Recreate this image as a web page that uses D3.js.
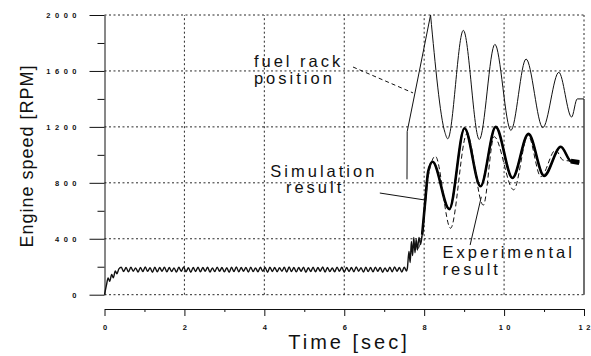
<!DOCTYPE html>
<html>
<head>
<meta charset="utf-8">
<script src="https://cdn.jsdelivr.net/npm/d3@7"></script>
<style>
  body { margin: 0; background: #fff; }
  svg { display: block; font-family: "Liberation Sans", Arial, sans-serif; }
</style>
</head>
<body>
<svg id="chart" width="591" height="356"></svg>
<script>
// axis ticks
var xTicks = [0, 2, 4, 6, 8, 10, 12];
var xMinor = [1, 3, 5, 7, 9, 11];
var yTicks = [0, 400, 800, 1200, 1600, 2000];
var yMinor = [200, 600, 1000, 1400, 1800];
var yLabels = ['0', '400', '800', '1200', '1600', '2000'];

// fuel rack position (thin line)
var fuelT = [7.57, 7.575, 7.87, 8.16, 8.52, 8.59, 8.98, 9.38, 9.77, 10.17, 10.55, 10.97, 11.37, 11.69, 11.83, 12.0];
var fuelV = [825, 1166, 1585, 2000, 1160, 1115, 1890, 1110, 1790, 1175, 1685, 1195, 1590, 1270, 1400, 1400];

// simulation result: start-up
var simStartT = [0, 0.05, 0.09, 0.13, 0.18, 0.22, 0.27, 0.31, 0.36];
var simStartV = [0, 70, 120, 95, 145, 120, 170, 150, 185];

// simulation result: idle ripple, sampled every 0.06 s from 0.42 s
var rippleStart = 0.42;
var rippleStep = 0.06;
var rippleV = [
  196, 166, 194, 163, 197, 168, 192, 162, 195, 165, 198, 167, 193, 161, 196, 164, 194, 168, 197, 163,
  195, 166, 192, 162, 196, 167, 198, 164, 193, 160, 195, 166, 197, 163, 194, 168, 196, 162, 192, 165,
  197, 167, 195, 163, 193, 161, 196, 166, 198, 164, 194, 168, 195, 162, 197, 165, 192, 163, 196, 167,
  194, 161, 197, 166, 195, 164, 193, 168, 196, 162, 198, 165, 194, 163, 195, 167, 197, 161, 193, 166,
  196, 164, 194, 168, 198, 162, 195, 165, 192, 163, 197, 167, 196, 161, 194, 166, 195, 164, 198, 168,
  193, 162, 196, 165, 194, 163, 197, 167, 195, 161, 192, 166, 196, 164, 198, 168, 194, 162, 196, 170
];

// simulation result: load step
var simStepT = [7.58, 7.62, 7.65, 7.68, 7.71, 7.74, 7.77, 7.8, 7.83, 7.87, 7.91, 7.95, 8.03, 8.1, 8.21, 8.63, 9.01, 9.41, 9.79, 10.21, 10.61, 11.0, 11.42, 11.67, 11.88];
var simStepV = [190, 310, 230, 380, 280, 410, 300, 395, 320, 410, 360, 430, 680, 880, 951, 612, 1190, 775, 1200, 835, 1150, 850, 1058, 955, 945];

// experimental result (dashed)
var expT = [7.85, 7.93, 8.02, 8.1, 8.28, 8.66, 9.07, 9.48, 9.75, 10.24, 10.6, 10.92, 11.29, 11.47, 11.67, 11.75];
var expV = [330, 400, 620, 840, 990, 475, 1150, 640, 1130, 750, 1140, 844, 1035, 963, 955, 950];

var svg = d3.select('#chart');

var x = d3.scaleLinear().domain([0, 12]).range([104.5, 584]);
var y = d3.scaleLinear().domain([0, 2000]).range([294.7, 15]);

// build point lists
var fuel = fuelT.map((t, i) => ({t: t, v: fuelV[i]}));
var sim = simStartT.map((t, i) => ({t: t, v: simStartV[i]}));
rippleV.forEach((v, i) => sim.push({t: rippleStart + i * rippleStep, v: v}));
simStepT.forEach((t, i) => sim.push({t: t, v: simStepV[i]}));
var exp = expT.map((t, i) => ({t: t, v: expV[i]}));

// grid
var grid = svg.append('g')
  .attr('stroke', '#111')
  .attr('stroke-width', 0.9)
  .attr('stroke-dasharray', '2,2.5');

grid.selectAll('.hgrid')
  .data(yTicks)
  .join('line')
  .attr('class', 'hgrid')
  .attr('x1', x(0)).attr('x2', x(12))
  .attr('y1', d => y(d)).attr('y2', d => y(d));

grid.selectAll('.vgrid')
  .data(xTicks.slice(1, -1))
  .join('line')
  .attr('class', 'vgrid')
  .attr('x1', d => x(d)).attr('x2', d => x(d))
  .attr('y1', y(0)).attr('y2', y(2000));

grid.append('line')
  .attr('x1', x(12)).attr('x2', x(12))
  .attr('y1', y(2000)).attr('y2', y(1400));

svg.append('line')
  .attr('x1', x(12)).attr('x2', x(12))
  .attr('y1', y(1400)).attr('y2', y(0))
  .attr('stroke', '#111')
  .attr('stroke-width', 1.2);

// y axis
var yAxis = svg.append('g')
  .attr('transform', 'translate(' + x(0) + ',0)')
  .call(d3.axisLeft(y).tickValues(yTicks).tickSize(15).tickSizeOuter(0).tickPadding(8.5)
    .tickFormat((d, i) => yLabels[i]));

svg.append('g')
  .attr('transform', 'translate(' + x(0) + ',0)')
  .call(d3.axisLeft(y).tickValues(yMinor).tickSize(7).tickSizeOuter(0).tickFormat(''))
  .call(g => g.select('.domain').remove());

yAxis.selectAll('text')
  .attr('font-size', 7.5)
  .attr('font-weight', 'bold')
  .attr('letter-spacing', 4.5)
  .attr('fill', '#111');

// x axis
var xAxis = svg.append('g')
  .attr('transform', 'translate(0,309)')
  .call(d3.axisBottom(x).tickValues(xTicks).tickSize(7).tickSizeOuter(0).tickPadding(8.7)
    .tickFormat(d3.format('d')));

svg.append('g')
  .attr('transform', 'translate(0,309)')
  .call(d3.axisBottom(x).tickValues(xMinor).tickSize(3).tickSizeOuter(0).tickFormat(''))
  .call(g => g.select('.domain').remove());

// spaced digits without trailing space
xAxis.selectAll('text')
  .attr('font-size', 7.5)
  .attr('font-weight', 'bold')
  .attr('fill', '#111')
  .each(function(d) {
    var s = String(d);
    var el = d3.select(this).text('');
    s.split('').forEach((c, i) => {
      el.append('tspan').attr('dx', i ? 3.5 : 0).text(c);
    });
  });

svg.selectAll('.domain, .tick line').attr('stroke', '#111');

// titles
svg.append('text')
  .attr('transform', 'translate(33,156) rotate(-90)')
  .attr('text-anchor', 'middle')
  .attr('font-size', 18)
  .attr('letter-spacing', 1)
  .attr('fill', '#111')
  .text('Engine speed [RPM]');

svg.append('text')
  .attr('x', 349)
  .attr('y', 349)
  .attr('text-anchor', 'middle')
  .attr('font-size', 20)
  .attr('letter-spacing', 3)
  .attr('fill', '#111')
  .text('Time [sec]');

// lines
var lineLin = d3.line().x(d => x(d.t)).y(d => y(d.v));
var lineSmooth = d3.line().curve(d3.curveMonotoneX).x(d => x(d.t)).y(d => y(d.v));

svg.append('path')
  .datum(fuel.slice(0, 4))
  .attr('fill', 'none')
  .attr('stroke', '#111')
  .attr('stroke-width', 1)
  .attr('d', lineLin);

svg.append('path')
  .datum(fuel.slice(3))
  .attr('fill', 'none')
  .attr('stroke', '#111')
  .attr('stroke-width', 1)
  .attr('d', lineSmooth);

svg.append('path')
  .datum(sim)
  .attr('fill', 'none')
  .attr('stroke', '#111')
  .attr('stroke-width', 1.4)
  .attr('d', lineSmooth);

svg.append('path')
  .datum(sim.filter(d => d.t >= 7.95))
  .attr('fill', 'none')
  .attr('stroke', '#000')
  .attr('stroke-width', 2.6)
  .attr('d', lineSmooth);

svg.append('path')
  .datum(sim.filter(d => d.t >= 11.6))
  .attr('fill', 'none')
  .attr('stroke', '#000')
  .attr('stroke-width', 5)
  .attr('d', lineSmooth);

svg.append('path')
  .datum(exp)
  .attr('fill', 'none')
  .attr('stroke', '#111')
  .attr('stroke-width', 1)
  .attr('stroke-dasharray', '5,3')
  .attr('d', lineSmooth);

// annotations
function label(lines, t, v, gap)
{
  var txt = svg.append('text')
    .attr('font-size', 16.5)
    .attr('letter-spacing', 3)
    .attr('fill', '#111');
  lines.forEach((s, i) => {
    txt.append('tspan')
      .attr('x', x(s.t !== undefined ? s.t : t))
      .attr('y', y(v) + i * gap)
      .text(s.text);
  });
}

label([{text: 'fuel rack'}, {text: 'position'}], 3.74, 1628, 17);
label([{text: 'Simulation', t: 4.15}, {text: 'result', t: 4.54}], 4.15, 844, 16.5);
label([{text: 'Experimental'}, {text: 'result'}], 8.46, 260, 16.7);

svg.append('line')
  .attr('x1', x(6.22)).attr('y1', y(1628))
  .attr('x2', x(7.72)).attr('y2', y(1443))
  .attr('stroke', '#111')
  .attr('stroke-dasharray', '4,3');

svg.append('line')
  .attr('x1', x(6.89)).attr('y1', y(727))
  .attr('x2', x(8.02)).attr('y2', y(677))
  .attr('stroke', '#111');

svg.append('line')
  .attr('x1', x(9.15)).attr('y1', y(355))
  .attr('x2', x(9.43)).attr('y2', y(700))
  .attr('stroke', '#111');
</script>
</body>
</html>
